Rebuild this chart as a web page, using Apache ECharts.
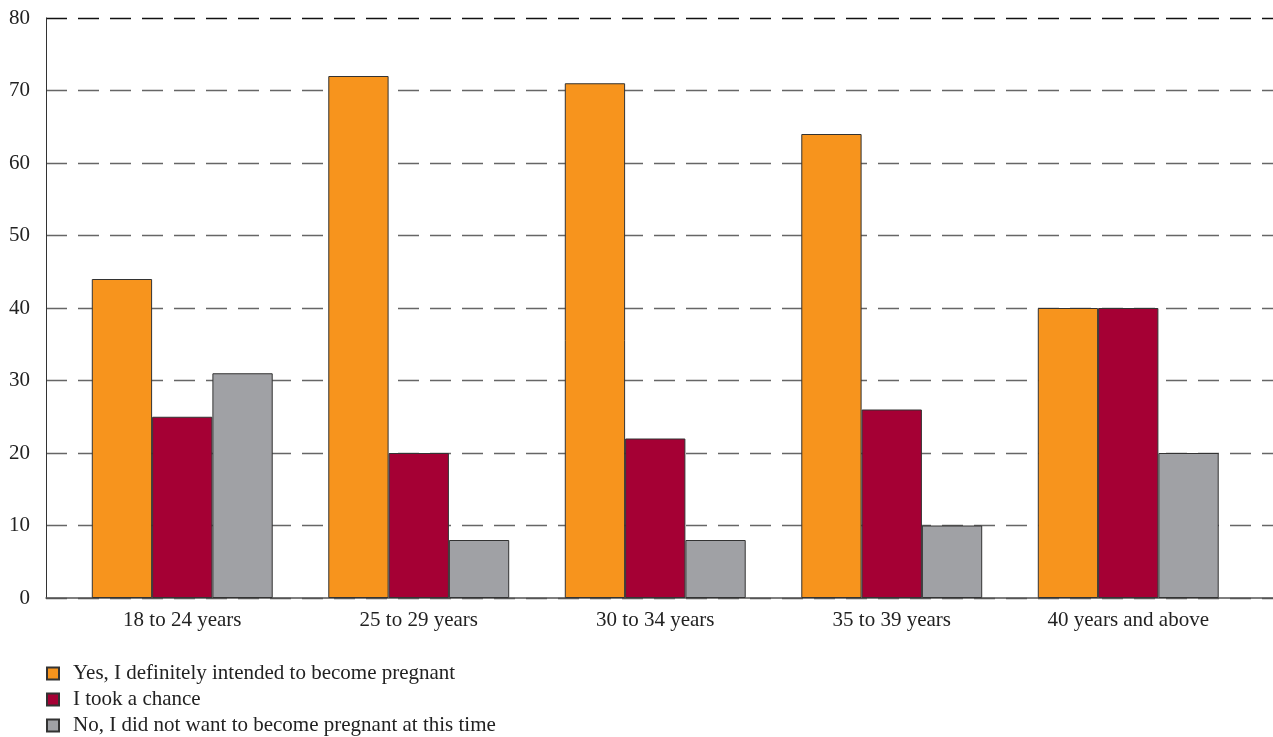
<!DOCTYPE html>
<html><head><meta charset="utf-8">
<script src="https://cdn.jsdelivr.net/npm/echarts@6/dist/echarts.min.js"></script>
<style>html,body{margin:0;padding:0;background:#fff}#c{width:1273px;height:737px}</style>
</head><body><div id="c"></div>
<script>
const categories = ['18 to 24 years','25 to 29 years','30 to 34 years','35 to 39 years','40 years and above'];
const seriesNames = ['Yes, I definitely intended to become pregnant','I took a chance','No, I did not want to become pregnant at this time'];
const intended = [44, 72, 71, 64, 40];
const tookChance = [25, 20, 22, 26, 40];
const notWanted = [31, 8, 8, 10, 20];
const yTicks = [0, 10, 20, 30, 40, 50, 60, 70, 80];

const FONT = '"Liberation Serif", "DejaVu Serif", serif';
const colors = ['#F7941D', '#A50034', '#A0A1A5'];
const chart = echarts.init(document.getElementById('c'));
const values = [intended, tookChance, notWanted];
chart.setOption({
  animation: false,
  textStyle: {fontFamily: FONT},
  grid: [
    {left: 46, right: 0, top: 18, bottom: 139},
    {left: 64, width: 1182.5, top: 18, bottom: 139}
  ],
  xAxis: [
    {gridIndex: 0, type: 'value', min: 0, max: 1, axisLabel: {show: false}, axisTick: {show: false}, splitLine: {show: false},
     axisLine: {show: true, lineStyle: {color: '#555', width: 1.5}}},
    {gridIndex: 1, type: 'category', data: categories, axisLine: {show: false}, axisTick: {show: false},
     axisLabel: {fontFamily: FONT, fontSize: 21, color: '#222', margin: 12}}
  ],
  yAxis: [
    {gridIndex: 0, type: 'value', min: yTicks[0], max: yTicks[yTicks.length - 1], interval: 10,
     axisLine: {show: true, lineStyle: {color: '#333', width: 1}}, axisTick: {show: false},
     axisLabel: {fontFamily: FONT, fontSize: 21, color: '#222', margin: 16},
     splitLine: {show: true, lineStyle: {type: [21, 11], width: 1.3,
       color: ['#555','#666','#666','#666','#666','#666','#666','#666','#111']}}},
    {gridIndex: 1, type: 'value', min: 0, max: 80, show: false, splitLine: {show: false}}
  ],
  legend: {
    orient: 'vertical', left: 41, top: 658, height: 90, itemWidth: 12, itemHeight: 12, itemGap: 5,
    icon: 'rect',
    textStyle: {fontFamily: FONT, fontSize: 21, color: '#222', padding: [0, 0, 0, 9]},
    data: seriesNames
  },
  series: seriesNames.map((n, i) => ({
    name: n, type: 'bar', xAxisIndex: 1, yAxisIndex: 1, data: values[i],
    barGap: '0%', barCategoryGap: '23.5%',
    itemStyle: {color: colors[i], borderColor: '#333', borderWidth: 1}
  }))
});
</script></body></html>
